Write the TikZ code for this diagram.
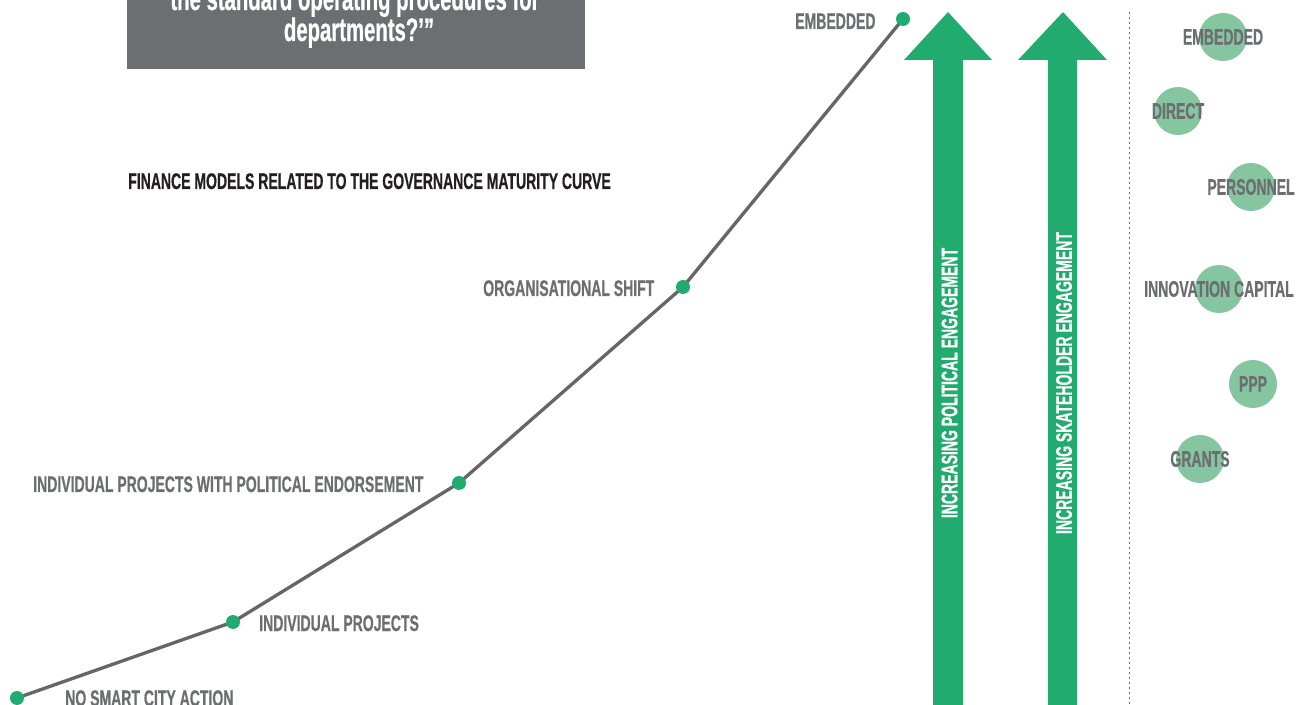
\documentclass[tikz,border=0pt]{standalone}
\usepackage{fontspec}
\setmainfont{Liberation Sans}[FakeStretch=0.622, BoldFeatures={FakeBold=0.6}]
\definecolor{labelgrey}{HTML}{6D6E71}
\definecolor{titledark}{HTML}{231F20}
\definecolor{boxgrey}{HTML}{6D6E71}
\definecolor{linegrey}{HTML}{666666}
\definecolor{dotgreen}{HTML}{22AB6F}
\definecolor{arrowgreen}{HTML}{22AB6F}
\definecolor{bubblegreen}{HTML}{85C6A1}
\begin{document}
\begin{tikzpicture}[x=0.75pt,y=-0.75pt,
  lbl/.style={anchor=base west, inner sep=0pt, text=labelgrey, font=\fontsize{16.9pt}{19pt}\selectfont\bfseries},
  ttl/.style={anchor=base west, inner sep=0pt, text=titledark, font=\fontsize{16.9pt}{19pt}\selectfont\bfseries},
  clabel/.style={anchor=center, inner sep=0pt, text=labelgrey, font=\fontsize{16.9pt}{19pt}\selectfont\bfseries},
  boxtxt/.style={anchor=base, inner sep=0pt, text=white, font=\fontsize{24.5pt}{26pt}\selectfont\bfseries},
  arrtxt/.style={anchor=center, rotate=90, inner sep=0pt, text=white, font=\fontsize{16.9pt}{19pt}\selectfont\bfseries},
  bubble/.style={circle, fill=bubblegreen, minimum size=36pt, inner sep=0pt},
  dotnode/.style={circle, fill=dotgreen, minimum size=10.5pt, inner sep=0pt},
  curve/.style={draw=linegrey, line width=2.5pt, line join=round},
  bigarrow/.style={fill=arrowgreen}
]
\useasboundingbox (0,0) rectangle (1303,705);

% quote box
\fill[boxgrey] (127,-5) rectangle (585,69);
\node[boxtxt] (q1) at (355,10) {the standard operating procedures for};
\node[boxtxt] (q2) at (359,41) {departments?’”};

% title
\node[ttl] (title) at (128,189) {FINANCE MODELS RELATED TO THE GOVERNANCE MATURITY CURVE};

% maturity curve
\coordinate (p0) at (17,698);
\coordinate (p1) at (233,622);
\coordinate (p2) at (459,483);
\coordinate (p3) at (683,287);
\coordinate (p4) at (903,19);
\draw[curve] (p0) -- (p1) -- (p2) -- (p3) -- (p4);
\node[dotnode] (d0) at (p0) {};
\node[dotnode] (d1) at (p1) {};
\node[dotnode] (d2) at (p2) {};
\node[dotnode] (d3) at (p3) {};
\node[dotnode] (d4) at (p4) {};

\node[lbl] (l0) at (65,706) {NO SMART CITY ACTION};
\node[lbl] (l1) at (259,631) {INDIVIDUAL PROJECTS};
\node[lbl] (l2) at (33,492) {INDIVIDUAL PROJECTS WITH POLITICAL ENDORSEMENT};
\node[lbl] (l3) at (483,296) {ORGANISATIONAL SHIFT};
\node[lbl] (l4) at (795,29) {EMBEDDED};

% big arrows
\fill[bigarrow] (933,705) -- (933,60) -- (904,60) -- (948,12) -- (992,60) -- (963,60) -- (963,705) -- cycle;
\fill[bigarrow] (1048,705) -- (1048,60) -- (1018,60) -- (1063,12) -- (1107,60) -- (1077,60) -- (1077,705) -- cycle;
\node[arrtxt] (a1) at (949.5,383) {INCREASING POLITICAL ENGAGEMENT};
\node[arrtxt] (a2) at (1064,383) {INCREASING SKATEHOLDER ENGAGEMENT};

% dotted separator
\coordinate (s0) at (1129.5,12);
\coordinate (s1) at (1129.5,705);
\draw[labelgrey, line width=1.3pt, dash pattern=on 1.3pt off 2.45pt] (s0) -- (s1);

% finance model bubbles
\node[bubble] (bE) at (1223,37) {};
\node[clabel] at (bE.center) {EMBEDDED};
\node[bubble] (bD) at (1178,111) {};
\node[clabel] at (bD.center) {DIRECT};
\node[bubble] (bP) at (1251,187) {};
\node[clabel] at (bP.center) {PERSONNEL};
\node[bubble] (bI) at (1219,289) {};
\node[clabel] at (bI.center) {INNOVATION CAPITAL};
\node[bubble] (bPPP) at (1253,384) {};
\node[clabel] at (bPPP.center) {PPP};
\node[bubble] (bG) at (1200,459) {};
\node[clabel] at (bG.center) {GRANTS};
\end{tikzpicture}
\end{document}
